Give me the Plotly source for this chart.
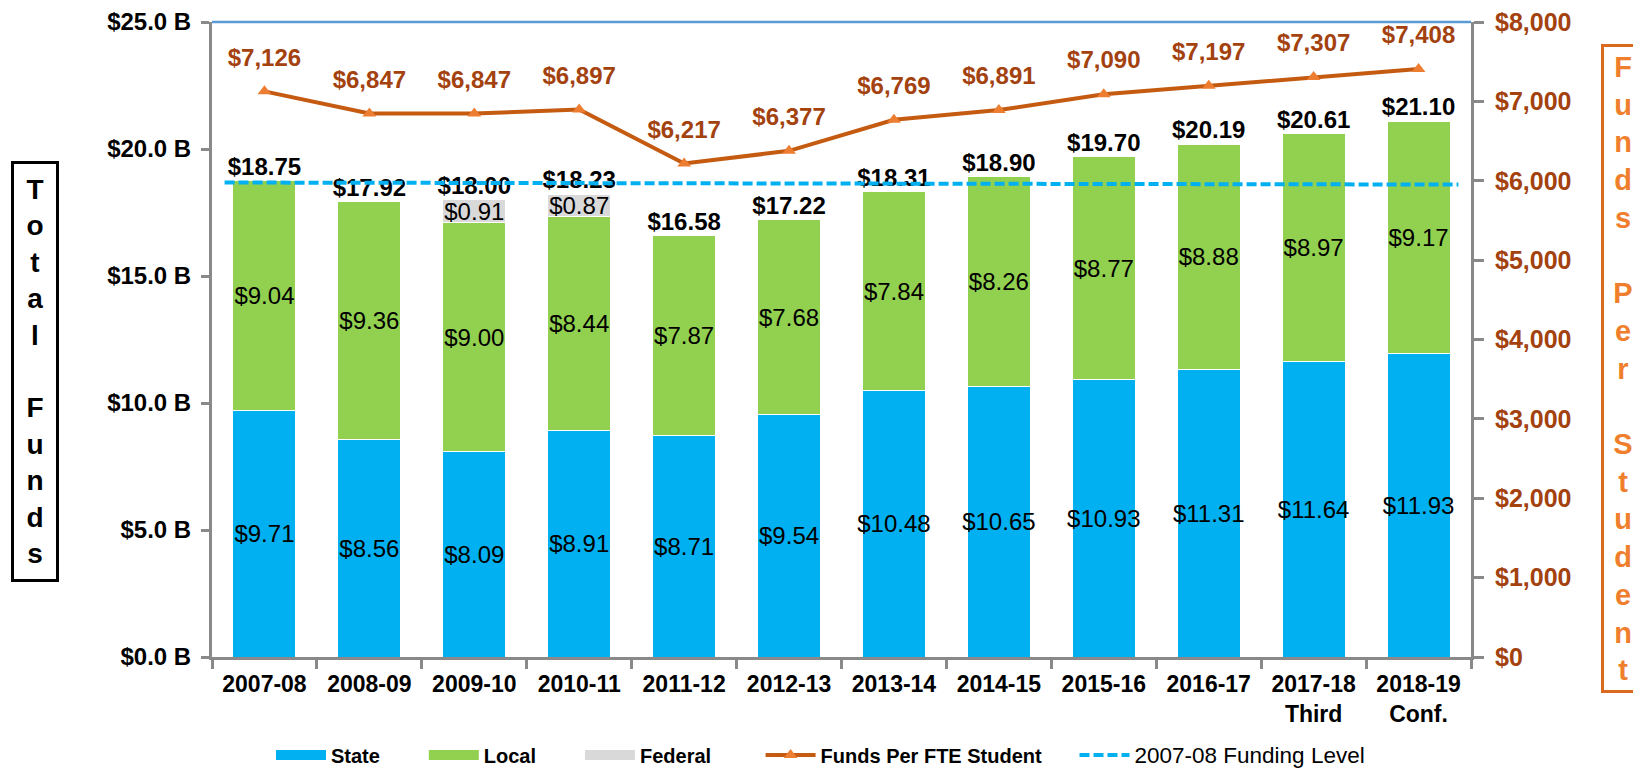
import plotly.graph_objects as go

categories = ["2007-08", "2008-09", "2009-10", "2010-11", "2011-12", "2012-13",
              "2013-14", "2014-15", "2015-16", "2016-17", "2017-18<br>Third", "2018-19<br>Conf."]
state = [9.71, 8.56, 8.09, 8.91, 8.71, 9.54, 10.48, 10.65, 10.93, 11.31, 11.64, 11.93]
local = [9.04, 9.36, 9.00, 8.44, 7.87, 7.68, 7.84, 8.26, 8.77, 8.88, 8.97, 9.17]
federal = [0, 0, 0.91, 0.87, 0, 0, 0, 0, 0, 0, 0, 0]
totals = [18.75, 17.92, 18.00, 18.23, 16.58, 17.22, 18.31, 18.90, 19.70, 20.19, 20.61, 21.10]
funds_per_fte = [7126, 6847, 6847, 6897, 6217, 6377, 6769, 6891, 7090, 7197, 7307, 7408]
funding_level_ends = [18.68, 18.60]

left_tickvals = [0, 5, 10, 15, 20, 25]
left_ticktext = ["$0.0 B", "$5.0 B", "$10.0 B", "$15.0 B", "$20.0 B", "$25.0 B"]
right_tickvals = [0, 1000, 2000, 3000, 4000, 5000, 6000, 7000, 8000]
right_ticktext = ["$0", "$1,000", "$2,000", "$3,000", "$4,000", "$5,000", "$6,000", "$7,000", "$8,000"]

FONT = "Liberation Sans, Arial, sans-serif"
C_STATE = "#00B0F0"
C_LOCAL = "#92D050"
C_FED = "#D9D9D9"
C_LINE = "#C55A11"
C_MARK = "#ED7D31"
C_LABEL = "#A3420F"
C_AXIS = "#898989"

# page body has an 8px margin; the figure is sized to fill the rest of the window
OFF = 8
W, H = 1641 - OFF, 769 - OFF

x = list(range(len(categories)))
NB = "\u00a0"

def money(v):
    return f"${v:.2f}"

def legend_name(label, bold=True, pad=0, size=None):
    t = f"<b>{label}</b>" if bold else label
    if size:
        t = f'<span style="font-size:{size}px">{t}</span>'
    return t + NB * pad

fig = go.Figure()

seg_font = dict(family=FONT, size=24, color="black")
for vals, name, col in [(state, "State", C_STATE), (local, "Local", C_LOCAL), (federal, "Federal", C_FED)]:
    fig.add_trace(go.Bar(
        x=x, y=vals, name=name, marker=dict(color=col, line=dict(color="white", width=1)),
        text=[money(v) if v > 0 else "" for v in vals], textposition="inside", textangle=0,
        insidetextanchor="middle", constraintext="none", textfont=seg_font,
        showlegend=False, hoverinfo="skip"))

# total labels
fig.add_trace(go.Scatter(
    x=x, y=totals, mode="text", text=[money(v) for v in totals], textposition="top center",
    textfont=dict(family=FONT, size=24, color="black", weight="bold"),
    showlegend=False, hoverinfo="skip"))

# legend proxies for bars
for name, col, pad in [("State", C_STATE, 7), ("Local", C_LOCAL, 7), ("Federal", C_FED, 8)]:
    fig.add_trace(go.Scatter(x=[None], y=[None], mode="lines", name=legend_name(name, pad=pad),
                             line=dict(color=col, width=11)))

# funds per FTE line
fig.add_trace(go.Scatter(
    x=x, y=funds_per_fte, yaxis="y2", mode="lines+markers",
    name=legend_name("Funds Per FTE Student", pad=5),
    line=dict(color=C_LINE, width=4),
    marker=dict(symbol="triangle-up", size=12, color=C_MARK)))
fig.add_trace(go.Scatter(
    x=x, y=funds_per_fte, yaxis="y2", mode="markers+text",
    marker=dict(size=30, color="rgba(0,0,0,0)"),
    text=[f"${v:,}" for v in funds_per_fte], textposition="top center",
    textfont=dict(family=FONT, size=24, color=C_LABEL, weight="bold"),
    showlegend=False, hoverinfo="skip"))

# 2007-08 funding level
ext = 0.38
fig.add_trace(go.Scatter(
    x=[x[0] - ext, x[-1] + ext], y=funding_level_ends, mode="lines",
    name=legend_name("2007-08 Funding Level", bold=False, size=22.5),
    line=dict(color=C_STATE, width=4, dash="10px,4px")))

L, R, T, B = 212 - OFF, 170, 22 - OFF, 112
plot_w = W - L - R
plot_h = H - T - B

fig.update_layout(
    width=W, height=H,
    margin=dict(l=L, r=R, t=T, b=B, autoexpand=False),
    paper_bgcolor="white", plot_bgcolor="white",
    barmode="stack", bargap=0.4,
    font=dict(family=FONT, color="black"),
    xaxis=dict(
        range=[-0.5, len(categories) - 0.5], tickvals=x, ticktext=categories,
        ticks="", showgrid=False, zeroline=False, automargin=False,
        showline=True, linecolor=C_AXIS, linewidth=3, ticklabeloverflow="allow",
        tickfont=dict(family=FONT, size=23, color="black", weight="bold"),
        ticklabelstandoff=4,
        minor=dict(tickvals=[i - 0.5 for i in range(len(categories) + 1)], ticks="outside",
                   ticklen=9, tickwidth=2.5, tickcolor=C_AXIS, showgrid=False),
    ),
    yaxis=dict(
        range=[0, 25], tickvals=left_tickvals, ticktext=left_ticktext, automargin=False,
        ticks="outside", ticklen=8, tickwidth=2.5, tickcolor=C_AXIS, ticklabeloverflow="allow",
        showline=True, linecolor=C_AXIS, linewidth=3, showgrid=False, zeroline=False,
        tickfont=dict(family=FONT, size=24, color="black", weight="bold"),
        ticklabelstandoff=5,
    ),
    yaxis2=dict(
        range=[0, 8000], tickvals=right_tickvals, ticktext=right_ticktext, automargin=False,
        overlaying="y", side="right", ticklabeloverflow="allow",
        ticks="outside", ticklen=10, tickwidth=2.5, tickcolor=C_AXIS,
        showline=True, linecolor=C_AXIS, linewidth=3, showgrid=False, zeroline=False,
        tickfont=dict(family=FONT, size=25, color=C_LABEL, weight="bold"),
        ticklabelstandoff=6,
    ),
    legend=dict(
        orientation="h", traceorder="normal",
        x=(271 - 212) / plot_w, xanchor="left",
        y=(657 - 755) / plot_h, yanchor="middle",
        font=dict(family=FONT, size=20, color="black"), itemwidth=50,
        bgcolor="rgba(0,0,0,0)",
    ),
    shapes=[dict(type="line", xref="paper", yref="paper", x0=0, x1=1, y0=1, y1=1,
                 line=dict(color="#5B9BD5", width=2.5))],
    annotations=[
        dict(text="<br>".join(list("Total") + [NB] + list("Funds")),
             xref="paper", yref="paper", x=(35 - 212) / plot_w, y=(657 - 371) / plot_h,
             xanchor="center", yanchor="middle", showarrow=False,
             font=dict(family=FONT, size=28, color="black", weight="bold"),
             bordercolor="black", borderwidth=3, borderpad=10, width=22, align="center"),
        dict(text="<br>".join(list("Funds") + [NB] + list("Per") + [NB] + list("Student")),
             xref="paper", yref="paper", x=(1623 - 212) / plot_w, y=(657 - 368.5) / plot_h,
             xanchor="center", yanchor="middle", showarrow=False,
             font=dict(family=FONT, size=29, color="#F07F2D", weight="bold"),
             bordercolor="#D96A1F", borderwidth=3, borderpad=4, width=30, align="center"),
    ],
)

fig.write_html("out.html")
